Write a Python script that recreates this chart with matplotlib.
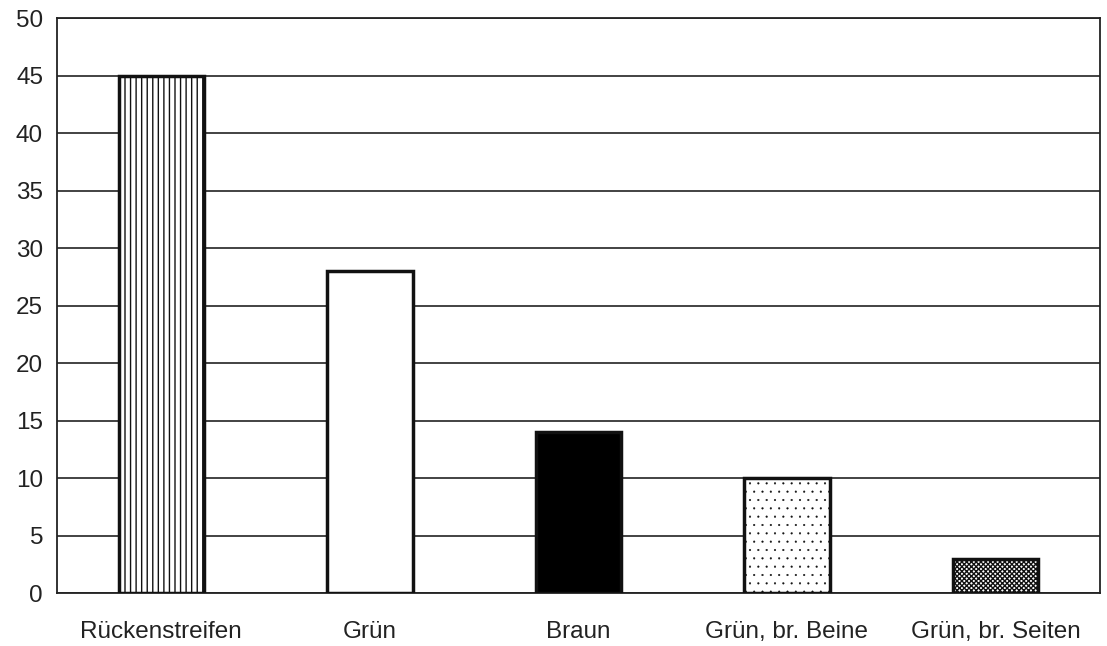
import matplotlib
matplotlib.use("Agg")
import matplotlib.pyplot as plt

categories = ["Rückenstreifen", "Grün", "Braun", "Grün, br. Beine", "Grün, br. Seiten"]
values = [45, 28, 14, 10, 3]
yticks = [0, 5, 10, 15, 20, 25, 30, 35, 40, 45, 50]

plt.rcParams['font.family'] = ['Liberation Sans', 'DejaVu Sans']

fig = plt.figure(figsize=(11.07, 6.46), dpi=100)
ax = fig.add_axes([0.0515, 0.082, 0.942, 0.890])

fills = ["white", "white", "black", "white", "white"]
hatches = ["|||", None, None, "..", "xxxxxxx"]
hatch_lw = [1.0, 1.0, 1.0, 0.3, 1.0]
x = range(len(categories))
for xi, v, fc, h, hl in zip(x, values, fills, hatches, hatch_lw):
    bars = ax.bar(xi, v, width=0.41, facecolor=fc, edgecolor="#111111",
                  linewidth=2.5, hatch=h, zorder=3)
    for b in bars:
        b.set_hatch_linewidth(hl)

ax.set_xlim(-0.5, len(categories) - 0.5)
ax.set_ylim(0, 50)
ax.set_yticks(yticks)
ax.set_xticks(list(x))
ax.set_xticklabels(categories)
ax.grid(axis="y", color="#222222", linewidth=1.2, zorder=0)
ax.tick_params(length=0, labelsize=17.5, colors="#222222", pad=10)
ax.tick_params(axis="x", pad=20)
for s in ax.spines.values():
    s.set_color("#222222")
    s.set_linewidth(1.3)

plt.savefig("out.png", dpi=100)
